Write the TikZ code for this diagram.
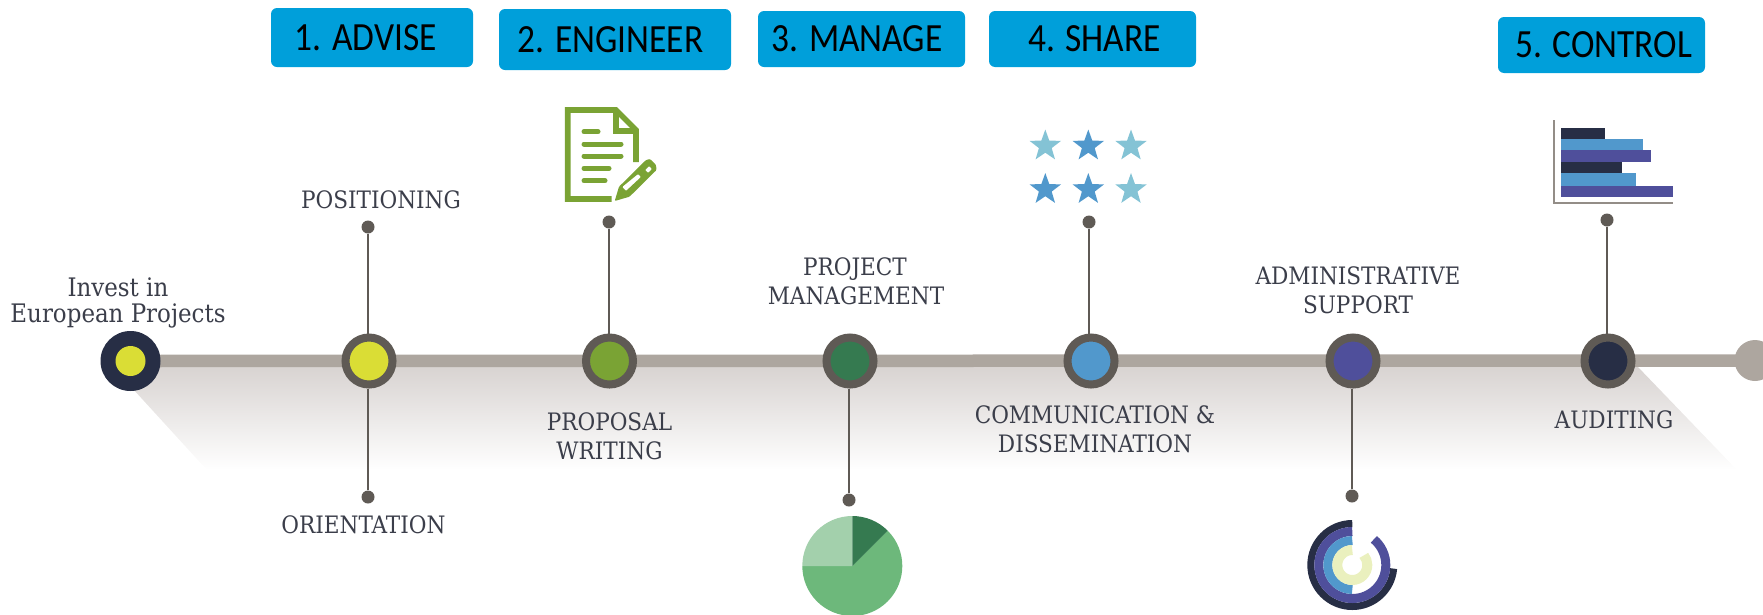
\documentclass[tikz,border=0pt]{standalone}
\usepackage{fontspec}
\setmainfont{Carlito}
\newfontfamily\btnfont[FakeStretch=0.885]{Carlito}
\newfontfamily\slab{DejaVu Serif Condensed}
\usetikzlibrary{backgrounds,shapes.geometric}
\definecolor{spinec}{HTML}{ADA69F}
\definecolor{stemc}{HTML}{5F5A55}
\definecolor{shadec}{HTML}{D8D3D1}
\definecolor{navy}{HTML}{272E45}
\definecolor{lime}{HTML}{DADD35}
\definecolor{leaf}{HTML}{7AA334}
\definecolor{forest}{HTML}{357A50}
\definecolor{sky}{HTML}{5198CC}
\definecolor{indigo}{HTML}{4F4F9B}
\definecolor{btn}{HTML}{009FDA}
\definecolor{labelc}{HTML}{3B3E4A}
\definecolor{paleg}{HTML}{A3D0AC}
\definecolor{midg}{HTML}{6DB87B}
\definecolor{lstar}{HTML}{84C3D5}
\definecolor{pale}{HTML}{EAF0BE}
\tikzset{
  x=1pt,y=-1pt,
  hub/.style={circle,draw=stemc,line width=8pt,minimum size=47pt,inner sep=0pt,fill=#1},
  dot/.style={circle,fill=stemc,minimum size=13pt,inner sep=0pt},
  stem/.style={draw=stemc,line width=2.6pt},
  btnbox/.style={fill=btn,rounded corners=6pt,minimum width=#1,text=black,font=\btnfont\fontsize{40}{40}\selectfont,inner sep=0pt,minimum height=56pt},
  lab/.style={text=labelc,font=\slab\fontsize{24}{24}\selectfont,inner sep=0pt,anchor=base},
  lab2/.style={text=labelc,font=\slab\fontsize{25.5}{25.5}\selectfont,inner sep=0pt,anchor=base},
  docline/.style={draw=leaf,line width=5pt,line cap=round},
  docedge/.style={draw=leaf,line width=5.6pt,line join=miter},
  starshape/.style={star,star points=5,star point ratio=2.45,fill=#1,inner sep=0pt,minimum size=33pt},
  bar/.style={fill=#1},
}
\newcommand\ringarc[6]{\draw[#6,line width=#5pt] ([shift={(#1:#3pt)}]#4) arc[start angle=#1,end angle=#2,radius=#3pt];}
\newcommand\piecut[5]{\fill[#5] (#3) -- ([shift={(#1:#4pt)}]#3) arc[start angle=#1,end angle=#2,radius=#4pt] -- cycle;}
\begin{document}
\begin{tikzpicture}
\useasboundingbox (0,0) rectangle (1763,614);
% buttons
\node[btnbox=202pt,minimum height=59pt] (b1) at (372,37.5) {1. ADVISE\rule{12.4pt}{0pt}};
\node[btnbox=232pt,minimum height=61pt] (b2) at (615,39.5) {2. ENGINEER\rule{9pt}{0pt}};
\node[btnbox=207pt] (b3) at (861.5,39) {3. MANAGE\rule{9pt}{0pt}};
\node[btnbox=207pt] (b4) at (1092.5,39) {\hspace{4pt}4. SHARE};
\node[btnbox=207pt] (b5) at (1601.5,45) {\hspace{4pt}5. CONTROL};
% hubs
\node[circle,fill=navy,minimum size=60pt,inner sep=0pt] (h0) at (130.5,361) {};
\node[circle,fill=lime,minimum size=30pt,inner sep=0pt] (h0i) at (130.5,361) {};
\node[hub=lime] (h1) at (369,361) {};
\node[hub=leaf] (h2) at (609.5,361) {};
\node[hub=forest] (h3) at (850,361) {};
\node[hub=sky] (h4) at (1091,361) {};
\node[hub=indigo] (h5) at (1353,361) {};
\node[hub=navy] (h6) at (1608,361) {};
\node[circle,fill=spinec,minimum size=41pt,inner sep=0pt] (e) at (1755,360.5) {};
% dots
\node[dot] (d1a) at (368,227) {};
\node[dot] (d1b) at (368,497) {};
\node[dot] (d2) at (609,222) {};
\node[dot] (d3) at (849,500) {};
\node[dot] (d4) at (1089,222) {};
\node[dot] (d5) at (1352,496) {};
\node[dot] (d6) at (1607,220) {};
% stems and spine
\begin{scope}[on background layer]
\shade[top color=shadec,bottom color=white] (112,366) -- (207,470) -- (1737,470) -- (1637,366) -- cycle;
\draw[spinec,line width=12.5pt] (h0.center) -- (e.center);
\end{scope}
\draw[stem] (d1a) -- (d1a |- h1.north);
\draw[stem] (d1b) -- (d1b |- h1.south);
\draw[stem] (d2) -- (d2 |- h2.north);
\draw[stem] (d3) -- (d3 |- h3.south);
\draw[stem] (d4) -- (d4 |- h4.north);
\draw[stem] (d5) -- (d5 |- h5.south);
\draw[stem] (d6) -- (d6 |- h6.north);
% labels
\node[lab2] (t0a) at (118,296) {Invest in};
\node[lab2] (t0b) at (118,322) {European Projects};
\node[lab] (t1) at (381,208) {POSITIONING};
\node[lab] (t2) at (363.5,533) {ORIENTATION};
\node[lab] (t3a) at (609.5,430.5) {PROPOSAL};
\node[lab] (t3b) at (609.5,459.5) {WRITING};
\node[lab] (t4a) at (855,275.5) {PROJECT};
\node[lab] (t4b) at (856,304.5) {MANAGEMENT};
\node[lab] (t5a) at (1095,423.5) {COMMUNICATION \&};
\node[lab] (t5b) at (1095,452.5) {DISSEMINATION};
\node[lab] (t6a) at (1358,284) {ADMINISTRATIVE};
\node[lab] (t6b) at (1358,313.5) {SUPPORT};
\node[lab] (t7) at (1614,428) {AUDITING};
% document icon
\draw[docedge] (636,162) -- (636,130) -- (616,110) -- (567.7,110) -- (567.7,199) -- (611.7,199);
\draw[docedge] (616,110) -- (616,130.7) -- (636,130.7);
\draw[docline] (584,131.7) -- (598,131.7);
\draw[docline] (584,144) -- (621,144);
\draw[docline] (584,156) -- (621,156);
\draw[docline] (584,168.3) -- (609,168.3);
\draw[docline] (584,180.7) -- (605,180.7);
\fill[leaf,even odd rule,rounded corners=1pt] (614.7,201) -- (619,186.7) -- (646,160) -- (650,159) -- (656,165) -- (656.5,170) -- (629.5,196.7) -- cycle
 (626,191) -- (622,187) -- (638,174) -- (641,177) -- cycle
 (645,170) -- (649,166) -- (652,169) -- (648,173) -- cycle;
% stars
\node[starshape=lstar] (s1) at (1045.3,146) {};
\node[starshape=sky] (s2) at (1088.3,146) {};
\node[starshape=lstar] (s3) at (1131,146) {};
\node[starshape=sky] (s4) at (1045.3,189.5) {};
\node[starshape=sky] (s5) at (1088.3,189.5) {};
\node[starshape=lstar] (s6) at (1131,189.5) {};
% bars
\fill[bar=navy] (1560.7,128.3) rectangle (1605,139);
\fill[bar=sky] (1560.7,139) rectangle (1643.3,149.7);
\fill[bar=indigo] (1560.7,149.7) rectangle (1651.3,162);
\fill[bar=navy] (1560.7,162) rectangle (1622.3,173);
\fill[bar=sky] (1560.7,173) rectangle (1635.7,186);
\fill[bar=indigo] (1560.7,186) rectangle (1672.7,196.7);
\draw[spinec!85!black,line width=2.4pt] (1554,120) -- (1554,202.7) -- (1673.3,202.7);
% pie
\coordinate (pc) at (852.3,566);
\piecut{45}{-180}{pc}{50}{midg}
\piecut{90}{180}{pc}{50}{paleg}
\piecut{45}{90}{pc}{50}{forest}
% radial
\coordinate (rc) at (1352.3,565);
\ringarc{90}{355}{41.5}{rc}{7}{navy}
\ringarc{90}{410}{33.5}{rc}{9}{indigo}
\ringarc{90}{270}{24.5}{rc}{9}{sky}
\ringarc{90}{400}{15}{rc}{10}{pale}
\end{tikzpicture}
\end{document}
